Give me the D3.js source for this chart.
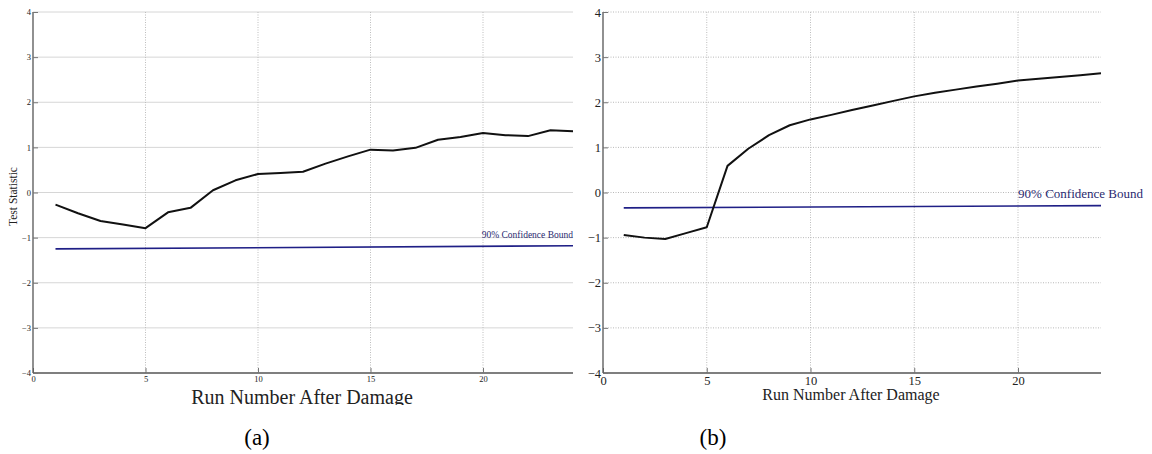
<!DOCTYPE html>
<html>
<head>
<meta charset="utf-8">
<script src="https://cdn.jsdelivr.net/npm/d3@7"></script>
<style>
  body { margin: 0; background: #fff; }
  svg { display: block; font-family: "Liberation Serif", "DejaVu Serif", serif; }
  svg text { font-family: "Liberation Serif", "DejaVu Serif", serif; }
</style>
</head>
<body>
<div id="chart"></div>
<script>
// Test statistic vs run number after damage, two cases (a) and (b)

const runs = [1, 2, 3, 4, 5, 6, 7, 8, 9, 10, 11, 12, 13, 14, 15, 16, 17, 18, 19, 20, 21, 22, 23, 24];

const statA = [-0.27, -0.46, -0.63, -0.71, -0.79, -0.44, -0.34, 0.05, 0.27, 0.41, 0.43, 0.46,
  0.64, 0.80, 0.95, 0.93, 0.99, 1.17, 1.23, 1.32, 1.27, 1.25, 1.38, 1.36];
const boundA = [-1.25, -1.18];

const statB = [-0.94, -1.00, -1.03, -0.90, -0.77, 0.59, 0.97, 1.27, 1.49, 1.62, 1.72, 1.83,
  1.93, 2.03, 2.13, 2.21, 2.28, 2.35, 2.41, 2.48, 2.52, 2.56, 2.60, 2.64];
const boundB = [-0.34, -0.29];

const xTicks = [0, 5, 10, 15, 20];
const yTicks = [-4, -3, -2, -1, 0, 1, 2, 3, 4];

const svg = d3.select("#chart")
  .append("svg")
  .attr("width", 1152)
  .attr("height", 454);

drawPanel({
  x0: 33, x1: 573, values: statA, bound: boundA,
  tickSize: 8.5, labelSize: 20, yLabel: "Test Statistic",
  hSolid: true, boundLabelSize: 9.5, boundLabelX: 573, tag: "(a)", tagX: 257,
  xLabelX: 302, xLabelY: 404, clipLabel: true
});

drawPanel({
  x0: 603, x1: 1101, values: statB, bound: boundB,
  tickSize: 12.5, labelSize: 16, yLabel: null,
  hSolid: false, boundLabelSize: 13, boundLabelX: 1143, tag: "(b)", tagX: 713,
  xLabelX: 851, xLabelY: 400, clipLabel: false
});

function drawPanel(o) {
  const top = 12, bottom = 373;
  const x = d3.scaleLinear().domain([0, 24]).range([o.x0, o.x1]);
  const y = d3.scaleLinear().domain([-4, 4]).range([bottom, top]);
  const g = svg.append("g");

  // grid
  g.append("g")
    .selectAll("line")
    .data(yTicks.filter(d => d > -4))
    .join("line")
    .attr("x1", o.x0).attr("x2", o.x1)
    .attr("y1", d => y(d)).attr("y2", d => y(d))
    .attr("stroke", o.hSolid ? "#d6d6d6" : "#b8b8b8")
    .attr("stroke-dasharray", o.hSolid ? null : "1,1.5");

  g.append("g")
    .selectAll("line")
    .data(xTicks.filter(d => d > 0))
    .join("line")
    .attr("x1", d => x(d)).attr("x2", d => x(d))
    .attr("y1", top).attr("y2", bottom)
    .attr("stroke", "#bdbdbd")
    .attr("stroke-dasharray", "1,1.5");

  // axes
  const ax = g.append("g")
    .attr("transform", `translate(0,${bottom})`)
    .call(d3.axisBottom(x).tickValues(xTicks).tickSize(-5).tickPadding(3));
  const ay = g.append("g")
    .attr("transform", `translate(${o.x0},0)`)
    .call(d3.axisLeft(y).tickValues(yTicks).tickSize(-5).tickPadding(2));

  for (const a of [ax, ay]) {
    a.attr("font-family", null).attr("font-size", o.tickSize);
    a.select(".domain").attr("stroke", "#555").attr("stroke-width", 1.3);
    a.selectAll(".tick line").attr("stroke", "#777");
    a.selectAll(".tick text").attr("fill", "#222");
  }
  ax.select(".domain").attr("d", `M${o.x0},0H${o.x1}`);
  ay.select(".domain").attr("d", `M0,${bottom}V${top}`);

  // confidence bound
  g.append("path")
    .datum([runs[0], runs[runs.length - 1]])
    .attr("fill", "none")
    .attr("stroke", "#1f1f86")
    .attr("stroke-width", 1.6)
    .attr("d", d3.line().x(d => x(d)).y((d, i) => y(o.bound[i])));

  g.append("text")
    .attr("x", o.boundLabelX)
    .attr("y", y(o.bound[1]) - 8)
    .attr("text-anchor", "end")
    .attr("font-size", o.boundLabelSize)
    .attr("fill", "#2a2a70")
    .text("90% Confidence Bound");

  // test statistic
  g.append("path")
    .datum(o.values)
    .attr("fill", "none")
    .attr("stroke", "#111")
    .attr("stroke-width", 2)
    .attr("stroke-linejoin", "round")
    .attr("d", d3.line().x((d, i) => x(runs[i])).y(d => y(d)));

  // labels
  if (o.clipLabel) {
    svg.append("clipPath").attr("id", "clipA")
      .append("rect").attr("x", 0).attr("y", 0).attr("width", 600).attr("height", o.xLabelY + 1);
  }
  g.append("text")
    .attr("x", o.xLabelX)
    .attr("y", o.xLabelY)
    .attr("text-anchor", "middle")
    .attr("font-size", o.labelSize)
    .attr("fill", "#222")
    .attr("clip-path", o.clipLabel ? "url(#clipA)" : null)
    .text("Run Number After Damage");

  if (o.yLabel) {
    g.append("text")
      .attr("transform", `translate(17,${y(0) + 4}) rotate(-90)`)
      .attr("text-anchor", "middle")
      .attr("font-size", 11.5)
      .attr("fill", "#222")
      .text(o.yLabel);
  }

  g.append("text")
    .attr("x", o.tagX)
    .attr("y", 445)
    .attr("text-anchor", "middle")
    .attr("font-size", 23)
    .attr("fill", "#000")
    .text(o.tag);
}
</script>
</body>
</html>
